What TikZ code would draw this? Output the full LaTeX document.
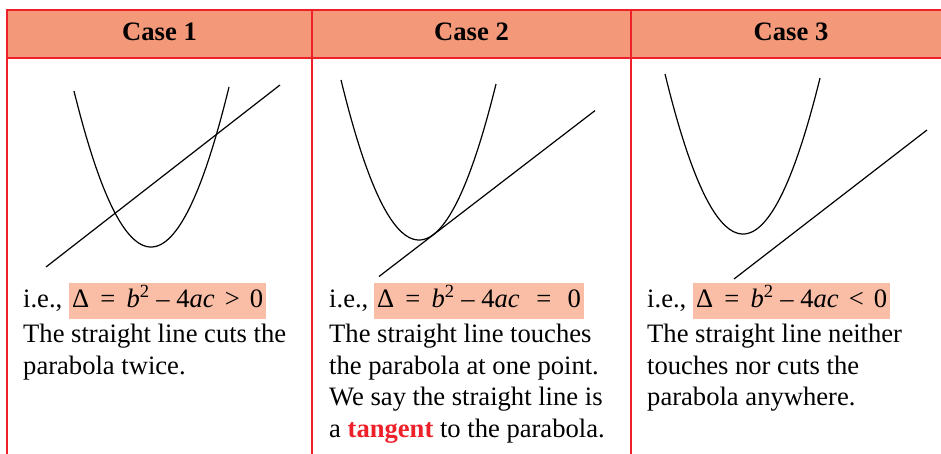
\documentclass[tikz,border=0pt]{standalone}
\usepackage{fontspec}
\setmainfont{Liberation Serif}
\begin{document}
\begin{tikzpicture}[x=1pt,y=-1pt,
  txt/.style={anchor=base west,inner sep=0pt,font=\fontsize{26.6}{32}\selectfont},
  head/.style={anchor=base,inner sep=0pt,font=\fontsize{26.6}{32}\selectfont\bfseries},
  hl/.style={anchor=base west,fill=hlcol,inner xsep=3pt,inner ysep=3pt,text height=21pt,text depth=9pt,font=\fontsize{26.6}{32}\selectfont},
  curve/.style={line width=1.2pt,black},
  grid/.style={draw=tabred,line width=1.2pt}]
\definecolor{headcol}{RGB}{244,152,122}
\definecolor{hlcol}{RGB}{249,190,165}
\definecolor{tabred}{RGB}{238,32,42}
\useasboundingbox (0,0) rectangle (941,453);
% header
\fill[headcol] (7,10) rectangle (960,58);
\draw[grid] (960,10) -- (7,10) -- (7,460);
\draw[grid] (7,58) -- (960,58);
\draw[grid] (312,10) -- (312,460);
\draw[grid] (631,10) -- (631,460);
\node[head] (h1) at (159.5,40) {Case 1};
\node[head] (h2) at (471.5,40) {Case 2};
\node[head] (h3) at (791,40) {Case 3};
% graphs
\draw[curve,domain=-77:78,samples=80] plot ({151+\x},{247-0.0263*\x*\x});
\coordinate (l1a) at (46,267); \coordinate (l1b) at (280,85);
\draw[curve] (l1a) -- (l1b);
\draw[curve,domain=-78:77,samples=80] plot ({419+\x},{240-0.0263*\x*\x});
\coordinate (l2a) at (379,276.5); \coordinate (l2b) at (595,110.6);
\draw[curve] (l2a) -- (l2b);
\draw[curve,domain=-78:77,samples=80] plot ({743+\x},{234-0.0263*\x*\x});
\coordinate (l3a) at (734,279); \coordinate (l3b) at (927,130);
\draw[curve] (l3a) -- (l3b);
% case 1 text
\node[txt] (ie1) at (23,307) {i.e.,};
\node[hl] (f1) at (69,307) {Δ\hspace{0.42em}=\hspace{0.42em}\textit{b}\textsuperscript{2}\hspace{0.25em}–\hspace{0.25em}4\textit{ac}\hspace{0.38em}>\hspace{0.38em}0\hspace{0.35em}};
\node[txt] (t11) at (23,342.5) {The straight line cuts the};
\node[txt] (t12) at (23,374.1) {parabola twice.};
% case 2 text
\node[txt] (ie2) at (329,307) {i.e.,};
\node[hl] (f2) at (374,307) {Δ\hspace{0.42em}=\hspace{0.42em}\textit{b}\textsuperscript{2}\hspace{0.25em}–\hspace{0.25em}4\textit{ac}\hspace{0.62em}=\hspace{0.62em}0\hspace{0.3em}};
\node[txt] (t21) at (329,342.5) {The straight line touches};
\node[txt] (t22) at (329,374.1) {the parabola at one point.};
\node[txt] (t23) at (329,405.7) {We say the straight line is};
\node[txt] (t24) at (329,437.3) {a \textcolor{tabred}{\bfseries tangent} to the parabola.};
% case 3 text
\node[txt] (ie3) at (647,307) {i.e.,};
\node[hl] (f3) at (693,307) {Δ\hspace{0.42em}=\hspace{0.42em}\textit{b}\textsuperscript{2}\hspace{0.25em}–\hspace{0.25em}4\textit{ac}\hspace{0.38em}<\hspace{0.38em}0\hspace{0.35em}};
\node[txt] (t31) at (647,342.5) {The straight line neither};
\node[txt] (t32) at (647,374.1) {touches nor cuts the};
\node[txt] (t33) at (647,405.7) {parabola anywhere.};
\end{tikzpicture}
\end{document}
